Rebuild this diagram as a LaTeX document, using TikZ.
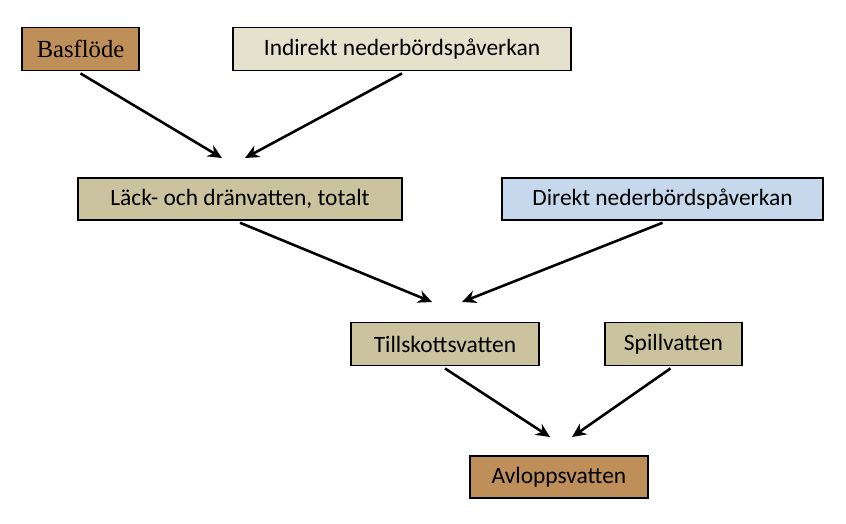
\documentclass[tikz,border=0pt]{standalone}
\usepackage{fontspec}
\setmainfont{Carlito}
\newfontfamily\serifbox{Liberation Serif}
\usetikzlibrary{arrows.meta}
\definecolor{brownbox}{HTML}{BF8F5A}
\definecolor{paleboxA}{HTML}{E6E1CC}
\definecolor{tanbox}{HTML}{CBC29E}
\definecolor{bluebox}{HTML}{C6D8EB}
\begin{document}
\begin{tikzpicture}[x=0.03cm, y=-0.03cm,
  flow box/.style={draw, line width=1.3pt, inner sep=0pt, minimum height=1.3cm,
    font=\fontsize{20}{24}\selectfont},
  flow arrow/.style={-{Stealth[length=12pt,width=11pt]}, line width=2.2pt}]
\useasboundingbox (0,0) rectangle (846,523);

\node[flow box, fill=brownbox, minimum width=3.51cm, font=\serifbox\fontsize{21}{24}\selectfont] (bas) at (80.5,49) {Basflöde};
\node[flow box, fill=paleboxA, minimum width=10.14cm] (ind) at (402,49) {Indirekt nederbördspåverkan};
\node[flow box, fill=tanbox, minimum width=9.72cm, minimum height=1.26cm] (lack) at (240,199) {Läck- och dränvatten, totalt};
\node[flow box, fill=bluebox, minimum width=9.63cm, minimum height=1.26cm] (dir) at (662.5,199) {Direkt nederbördspåverkan};
\node[flow box, fill=tanbox, minimum width=5.64cm] (till) at (445,344) {Tillskottsvatten};
\node[flow box, fill=tanbox, minimum width=4.11cm] (spill) at (673.5,344) {Spillvatten};
\node[flow box, fill=brownbox, minimum width=5.34cm, minimum height=1.26cm] (avl) at (559,477) {Avloppsvatten};

\coordinate (t1) at (222,158);
\coordinate (t2) at (245,158);
\coordinate (t3) at (432,302);
\coordinate (t4) at (462,302);
\coordinate (t5) at (550,437);
\coordinate (t6) at (572,437);

\draw[flow arrow] (bas.south) ++(0,2) -- (t1);
\draw[flow arrow] (ind.south) ++(0,2) -- (t2);
\draw[flow arrow] (lack.south) ++(0,2) -- (t3);
\draw[flow arrow] (dir.south) ++(0,2) -- (t4);
\draw[flow arrow] (till.south) ++(0,2) -- (t5);
\draw[flow arrow] (spill.south) ++(-3,2) -- (t6);
\end{tikzpicture}
\end{document}
